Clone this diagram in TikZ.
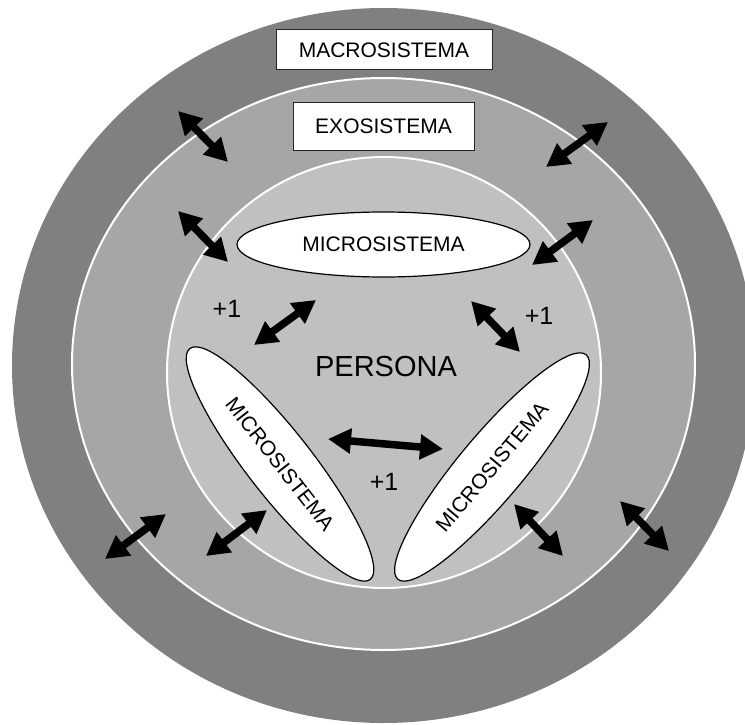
\documentclass[tikz,border=0pt]{standalone}
\usepackage{fontspec}
\setmainfont{Liberation Sans}
\usetikzlibrary{shapes.geometric, arrows.meta}
\definecolor{macrogray}{RGB}{128,128,128}
\definecolor{exogray}{RGB}{166,166,166}
\definecolor{innergray}{RGB}{192,192,192}
\tikzset{
    sysbox/.style={
        draw=black!85,
        fill=white,
        rectangle,
        line width=1pt,
        inner sep=0pt,
        font=\fontsize{21}{25}\selectfont,
    },
    micro/.style={
        draw,
        fill=white,
        shape=ellipse,
        minimum width=293pt,
        minimum height=65pt,
        inner sep=0pt,
        line width=1.2pt,
        font=\fontsize{21}{25}\selectfont,
    },
    link/.style={
        line width=7.5pt,
        {Triangle[width=24pt,length=23pt]}-{Triangle[width=24pt,length=23pt]},
    },
    plusone/.style={font=\fontsize{25}{29}\selectfont},
}

\begin{document}
\begin{tikzpicture}[x=1pt, y=-1pt]
   \useasboundingbox (0,0) rectangle (745,725);
   \fill[white] (0,0) rectangle (745,725);
   % rings
   \fill[macrogray] (383.5,365.5) ellipse [x radius=371.5, y radius=357.5];
   \filldraw[fill=exogray, draw=white, line width=2pt] (383.5,364) ellipse [x radius=311.5, y radius=286];
   \filldraw[fill=innergray, draw=white, line width=2pt] (384,372.5) ellipse [x radius=217, y radius=215.5];
   % labels of the rings
   \node[sysbox, minimum width=216pt, minimum height=40pt] (macro) at (384,50) {MACROSISTEMA};
   \node[sysbox, minimum width=181pt, minimum height=47pt] (exo) at (383.5,126.5) {EXOSISTEMA};
   \node[micro] (mtop) at (383.5,244.5) {MICROSISTEMA};
   \node[micro, rotate=-52] (mleft) at (280,464) {MICROSISTEMA};
   \node[micro, rotate=50] (mright) at (492,467) {MICROSISTEMA};
   \node[font=\fontsize{29}{34}\selectfont] (persona) at (386,367) {PERSONA};
   \node[plusone] (pleft) at (227,309) {+1};
   \node[plusone] (pright) at (539,316) {+1};
   \node[plusone] (pbottom) at (384,482) {+1};
   % arrow ends
   \coordinate (a1s) at (178,111);  \coordinate (a1e) at (228,162);
   \coordinate (a2s) at (178,211);  \coordinate (a2e) at (228,262);
   \coordinate (a3s) at (608,122);  \coordinate (a3e) at (546,167);
   \coordinate (a4s) at (593,220);  \coordinate (a4e) at (532,265);
   \coordinate (a5s) at (316,300);  \coordinate (a5e) at (254,345);
   \coordinate (a6s) at (471,301);  \coordinate (a6e) at (520,352);
   \coordinate (a7s) at (328,439);  \coordinate (a7e) at (443,449);
   \coordinate (a8s) at (267,510);  \coordinate (a8e) at (206,556);
   \coordinate (a9s) at (514,504);  \coordinate (a9e) at (563,556);
   \coordinate (a10s) at (166,514); \coordinate (a10e) at (105,559);
   \coordinate (a11s) at (620,501); \coordinate (a11e) at (669,551);
   \draw[link] (a1s) -- (a1e);
   \draw[link] (a2s) -- (a2e);
   \draw[link] (a3s) -- (a3e);
   \draw[link] (a4s) -- (a4e);
   \draw[link] (a5s) -- (a5e);
   \draw[link] (a6s) -- (a6e);
   \draw[link] (a7s) -- (a7e);
   \draw[link] (a8s) -- (a8e);
   \draw[link] (a9s) -- (a9e);
   \draw[link] (a10s) -- (a10e);
   \draw[link] (a11s) -- (a11e);
\end{tikzpicture}
\end{document}
